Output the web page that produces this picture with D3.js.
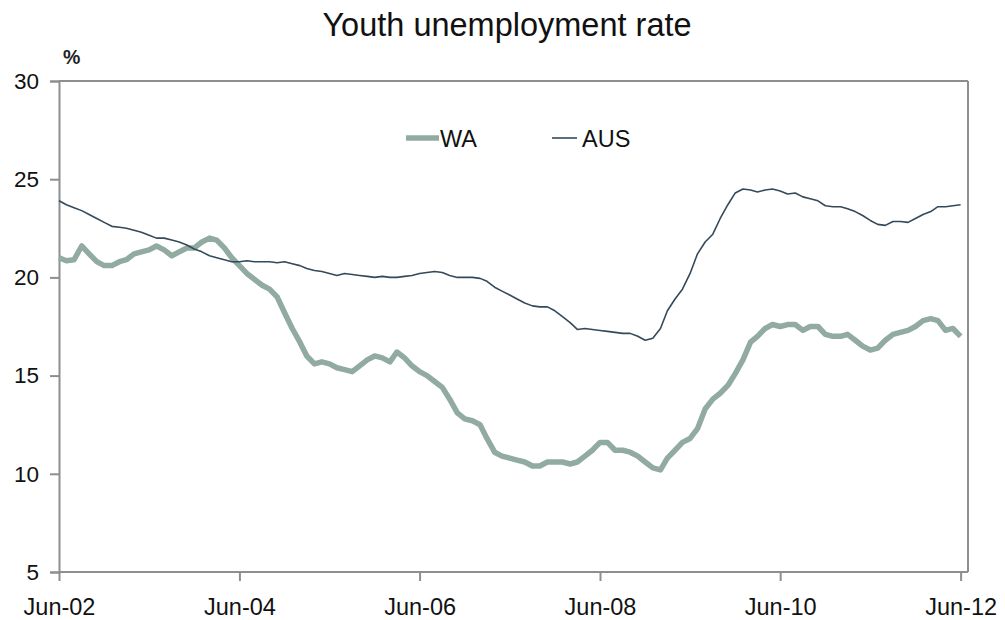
<!DOCTYPE html>
<html>
<head>
<meta charset="utf-8">
<script src="https://cdn.jsdelivr.net/npm/d3@7/dist/d3.min.js"></script>
<style>
  html, body { margin: 0; padding: 0; background: #fff; }
  svg { display: block; font-family: "Liberation Sans", Arial, sans-serif; }
</style>
</head>
<body>
<svg id="chart" width="1005" height="620"></svg>
<script>
// ---- data ----
const startMonth = [2002, 5]; // June 2002 (month index 0-based)
const waValues = [
  21.0, 20.85, 20.9, 21.6, 21.2, 20.8, 20.6, 20.6, 20.8, 20.9, 21.2, 21.3,
  21.4, 21.6, 21.4, 21.1, 21.3, 21.5, 21.5, 21.8, 22.0, 21.9, 21.5, 21.0,
  20.6, 20.2, 19.9, 19.6, 19.4, 19.0, 18.2, 17.4, 16.7, 16.0, 15.6, 15.7,
  15.6, 15.4, 15.3, 15.2, 15.5, 15.8, 16.0, 15.9, 15.7, 16.2, 15.9, 15.5,
  15.2, 15.0, 14.7, 14.4, 13.8, 13.1, 12.8, 12.7, 12.5, 11.8, 11.1, 10.9,
  10.8, 10.7, 10.6, 10.4, 10.4, 10.6, 10.6, 10.6, 10.5, 10.6, 10.9, 11.2,
  11.6, 11.6, 11.2, 11.2, 11.1, 10.9, 10.6, 10.3, 10.2, 10.8, 11.2, 11.6,
  11.8, 12.3, 13.3, 13.8, 14.1, 14.5, 15.1, 15.8, 16.7, 17.0, 17.4, 17.6,
  17.5, 17.6, 17.6, 17.3, 17.5, 17.5, 17.1, 17.0, 17.0, 17.1, 16.8, 16.5,
  16.3, 16.4, 16.8, 17.1, 17.2, 17.3, 17.5, 17.8, 17.9, 17.8, 17.3, 17.4,
  17.0
];
const ausValues = [
  23.9, 23.7, 23.55, 23.4, 23.2, 23.0, 22.8, 22.6, 22.55, 22.5, 22.4, 22.3,
  22.15, 22.0, 22.0, 21.9, 21.8, 21.65, 21.45, 21.3, 21.1, 21.0, 20.9, 20.8,
  20.8, 20.85, 20.8, 20.8, 20.8, 20.75, 20.8, 20.7, 20.6, 20.45, 20.35, 20.3,
  20.2, 20.1, 20.2, 20.15, 20.1, 20.05, 20.0, 20.05, 20.0, 20.0, 20.05, 20.1,
  20.2, 20.25, 20.3, 20.25, 20.1, 20.0, 20.0, 20.0, 19.95, 19.8, 19.5, 19.3,
  19.1, 18.9, 18.7, 18.55, 18.5, 18.5, 18.3, 18.0, 17.7, 17.35, 17.4, 17.35,
  17.3, 17.25, 17.2, 17.15, 17.15, 17.0, 16.8, 16.9, 17.4, 18.3, 18.9, 19.4,
  20.2, 21.2, 21.8, 22.2, 23.0, 23.7, 24.3, 24.5, 24.45, 24.35, 24.45, 24.5,
  24.4, 24.25, 24.3, 24.1, 24.0, 23.9, 23.65, 23.6, 23.6, 23.5, 23.35, 23.15,
  22.9, 22.7, 22.65, 22.85, 22.85, 22.8, 23.0, 23.2, 23.35, 23.6, 23.6, 23.65,
  23.7
];
const seriesNames = ["WA", "AUS"];
const yTicks = [5, 10, 15, 20, 25, 30];
const xTickDates = [[2002, 5], [2004, 5], [2006, 5], [2008, 5], [2010, 5], [2012, 5]];
const xTickLabels = ["Jun-02", "Jun-04", "Jun-06", "Jun-08", "Jun-10", "Jun-12"];
const titleText = "Youth unemployment rate";
const unitLabel = "%";

// ---- layout ----
const svg = d3.select("#chart");
const mLeft = 59, mRight = 968, mTop = 81, mBottom = 572;
const axisColor = "#8e8e8e";
const waColor = "#92aba2";
const ausColor = "#34495a";
const fontFam = "Liberation Sans, Arial, sans-serif";

const monthDate = i => new Date(startMonth[0], startMonth[1] + i, 1);
const x = d3.scaleTime()
  .domain([new Date(2002, 5, 1), new Date(2012, 6, 1)])
  .range([mLeft, mRight]);
const y = d3.scaleLinear().domain([5, 30]).range([mBottom, mTop]);

// title
svg.append("text").attr("x", 507).attr("y", 36)
  .attr("text-anchor", "middle").attr("font-size", 32.5).attr("fill", "#111")
  .text(titleText);
svg.append("text").attr("x", 63).attr("y", 64)
  .attr("font-size", 19.5).attr("font-weight", "bold").attr("fill", "#222")
  .text(unitLabel);

// frame: top and right borders
svg.append("line").attr("x1", mLeft).attr("x2", mRight).attr("y1", mTop).attr("y2", mTop)
  .attr("stroke", axisColor).attr("stroke-width", 2);
svg.append("line").attr("x1", mRight).attr("x2", mRight).attr("y1", mTop).attr("y2", mBottom)
  .attr("stroke", axisColor).attr("stroke-width", 2);

// y axis
const yAxis = d3.axisLeft(y).tickValues(yTicks).tickSize(9).tickPadding(11).tickFormat(d3.format("d"));
const gy = svg.append("g").attr("transform", `translate(${mLeft},0)`).call(yAxis);
gy.select(".domain").attr("stroke", axisColor).attr("stroke-width", 2);
gy.selectAll(".tick line").attr("stroke", axisColor).attr("stroke-width", 2);
gy.selectAll(".tick text").attr("font-size", 22.5).attr("fill", "#111")
  .attr("font-family", fontFam);

// x axis
const xAxis = d3.axisBottom(x)
  .tickValues(xTickDates.map(d => new Date(d[0], d[1], 1)))
  .tickSize(9).tickPadding(0)
  .tickFormat((d, i) => xTickLabels[i]);
const gx = svg.append("g").attr("transform", `translate(0,${mBottom})`).call(xAxis);
gx.select(".domain").attr("stroke", axisColor).attr("stroke-width", 2)
  .attr("d", `M${mLeft},0H${mRight}`);
gx.selectAll(".tick line").attr("stroke", axisColor).attr("stroke-width", 2);
gx.selectAll(".tick text").attr("font-size", 23.5).attr("fill", "#111")
  .attr("font-family", fontFam).attr("dy", null).attr("y", 43);

// lines
const line = d3.line().x((d, i) => x(monthDate(i))).y(d => y(d));
svg.append("path").datum(waValues).attr("d", line)
  .attr("fill", "none").attr("stroke", waColor).attr("stroke-width", 5.5)
  .attr("stroke-linejoin", "round");
svg.append("path").datum(ausValues).attr("d", line)
  .attr("fill", "none").attr("stroke", ausColor).attr("stroke-width", 1.6)
  .attr("stroke-linejoin", "round");

// legend
const legend = [
  { name: seriesNames[0], color: waColor, w: 5.5, x1: 406, x2: 439, tx: 440 },
  { name: seriesNames[1], color: ausColor, w: 1.6, x1: 552, x2: 577, tx: 582 }
];
legend.forEach(l => {
  svg.append("line").attr("x1", l.x1).attr("x2", l.x2).attr("y1", 138).attr("y2", 138)
    .attr("stroke", l.color).attr("stroke-width", l.w);
  svg.append("text").attr("x", l.tx).attr("y", 147).attr("font-size", 23.5).attr("fill", "#111")
    .text(l.name);
});
</script>
</body>
</html>
